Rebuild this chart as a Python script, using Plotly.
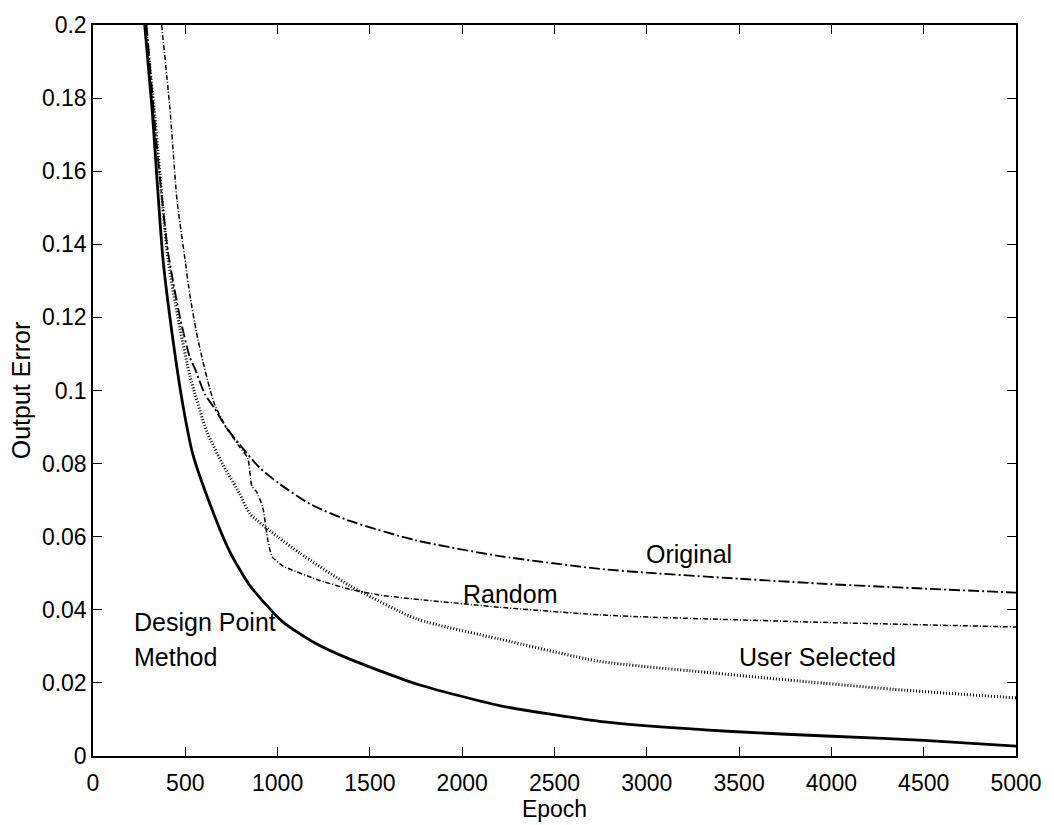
import plotly.graph_objects as go

# ---- data ----
design_x = [280, 320, 379, 430, 487, 541, 633, 740, 850, 1028, 1200, 1391, 1753, 2202, 2744, 3463, 4000, 4502, 5000]
design_y = [0.2, 0.177, 0.136, 0.115, 0.096, 0.0825, 0.069, 0.056, 0.0466, 0.0367, 0.031, 0.0265, 0.0197, 0.0138, 0.0095, 0.0067, 0.0054, 0.0043, 0.0027]

user_x = [285, 335, 406, 471, 525, 617, 703, 795, 850, 1000, 1120, 1391, 1753, 2202, 2744, 3300, 3826, 4400, 5000]
user_y = [0.2, 0.175, 0.136, 0.117, 0.104, 0.0887, 0.0798, 0.0717, 0.0663, 0.06, 0.0555, 0.0466, 0.0375, 0.032, 0.0259, 0.023, 0.0205, 0.018, 0.0159]

orig_x = [290, 340, 406, 471, 525, 552, 606, 660, 720, 795, 900, 1012, 1174, 1391, 1750, 2202, 2744, 3014, 3500, 4000, 4500, 5000]
orig_y = [0.2, 0.17, 0.138, 0.12, 0.109, 0.106, 0.099, 0.095, 0.09, 0.0852, 0.079, 0.0744, 0.069, 0.0643, 0.059, 0.0547, 0.0512, 0.0501, 0.0485, 0.047, 0.0458, 0.0447]

rand_x = [372, 417, 455, 498, 525, 560, 595, 630, 660, 720, 795, 839, 860, 887, 920, 947, 970, 1028, 1212, 1391, 1569, 2202, 2744, 3014, 4000, 5000]
rand_y = [0.2, 0.177, 0.152, 0.136, 0.126, 0.116, 0.108, 0.101, 0.096, 0.09, 0.0845, 0.0815, 0.0739, 0.0722, 0.068, 0.059, 0.0545, 0.052, 0.0483, 0.0456, 0.0439, 0.0407, 0.0386, 0.038, 0.0365, 0.0353]

x_ticks = [0, 500, 1000, 1500, 2000, 2500, 3000, 3500, 4000, 4500, 5000]
y_ticks = [0, 0.02, 0.04, 0.06, 0.08, 0.1, 0.12, 0.14, 0.16, 0.18, 0.2]
y_tick_text = ["0", "0.02", "0.04", "0.06", "0.08", "0.1", "0.12", "0.14", "0.16", "0.18", "0.2"]

labels = [
    ("Original", 3230, 0.0553, "center"),
    ("Random", 2262, 0.0442, "center"),
    ("User Selected", 3923, 0.0272, "center"),
    ("Design Point", 211, 0.0367, "left"),
    ("Method", 211, 0.0272, "left"),
]

FONT = "Liberation Sans, Arial, Helvetica, sans-serif"

fig = go.Figure()
fig.add_trace(go.Scatter(x=orig_x, y=orig_y, mode="lines",
                         line=dict(color="black", width=1.9, dash="11px,3px,2px,3px", shape="spline", smoothing=0.6)))
fig.add_trace(go.Scatter(x=rand_x, y=rand_y, mode="lines",
                         line=dict(color="black", width=1.5, dash="5px,2px,1px,2px", shape="spline", smoothing=0.4)))
fig.add_trace(go.Scatter(x=user_x, y=user_y, mode="lines",
                         line=dict(color="black", width=3, dash="1px,2px", shape="spline", smoothing=0.6)))
fig.add_trace(go.Scatter(x=design_x, y=design_y, mode="lines",
                         line=dict(color="black", width=2.8, shape="spline", smoothing=0.6)))

for text, x, y, anchor in labels:
    fig.add_annotation(x=x, y=y, text=text, showarrow=False, xanchor=anchor, yanchor="middle",
                       font=dict(family=FONT, size=25, color="black"))

axis_common = dict(showgrid=False, zeroline=False, showline=True, linecolor="black", linewidth=1.5,
                   mirror="ticks", ticks="inside", ticklen=9, tickwidth=1.2, tickcolor="black",
                   tickfont=dict(family=FONT, size=23, color="black"))

fig.update_layout(
    width=1054, height=825,
    margin=dict(l=93, r=37, t=14, b=69),
    paper_bgcolor="white", plot_bgcolor="white",
    showlegend=False,
    xaxis=dict(range=[0, 5000], tickvals=x_ticks, ticktext=[str(v) for v in x_ticks],
               ticklabelstandoff=6,
               title=dict(text="Epoch", font=dict(family=FONT, size=23, color="black"), standoff=0),
               **axis_common),
    yaxis=dict(range=[0, 0.2], tickvals=y_ticks, ticktext=y_tick_text,
               title=dict(text="Output Error", font=dict(family=FONT, size=25, color="black"), standoff=4),
               **axis_common),
)

fig.write_html("out.html")
